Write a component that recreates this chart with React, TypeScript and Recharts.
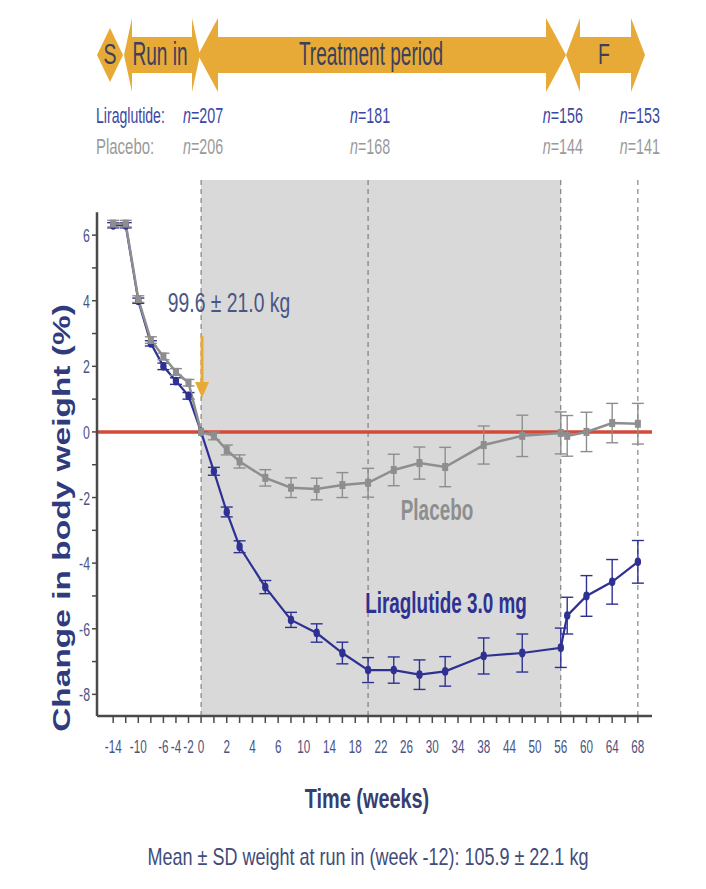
import React from 'react';
import {
  ComposedChart,
  Line,
  XAxis,
  YAxis,
  ReferenceLine,
  ReferenceArea,
  ErrorBar,
} from 'recharts';

// weeks of each visit and mean change in body weight (%) +- SD
const weeks = [-14, -12, -10, -8, -6, -4, -2, 0, 1, 2, 3, 5, 8, 12, 16, 20, 24, 28, 32, 38, 47, 56, 57, 60, 64, 68];
const liraglutide = [6.3, 6.3, 4.0, 2.7, 2.0, 1.55, 1.1, 0, -1.2, -2.44, -3.5, -4.73, -5.73, -6.13, -6.74, -7.26, -7.26, -7.4, -7.3, -6.83, -6.74, -6.58, -5.6, -5.0, -4.57, -3.96];
const liraglutideSd = [0.08, 0.08, 0.08, 0.08, 0.1, 0.1, 0.1, 0, 0.12, 0.15, 0.18, 0.2, 0.23, 0.28, 0.33, 0.38, 0.4, 0.45, 0.45, 0.55, 0.58, 0.6, 0.56, 0.62, 0.68, 0.65];
const placebo = [6.35, 6.35, 4.05, 2.8, 2.3, 1.83, 1.5, 0, -0.12, -0.55, -0.9, -1.4, -1.7, -1.74, -1.62, -1.55, -1.16, -0.95, -1.07, -0.4, -0.12, -0.03, -0.12, 0, 0.27, 0.25];
const placeboSd = [0.1, 0.1, 0.1, 0.1, 0.1, 0.1, 0.1, 0, 0.12, 0.15, 0.2, 0.25, 0.3, 0.33, 0.38, 0.44, 0.48, 0.49, 0.6, 0.58, 0.63, 0.64, 0.62, 0.6, 0.6, 0.62];

const xTickLabels = [-14, -10, -6, -4, -2, 0, 2, 4, 6, 10, 14, 18, 22, 26, 30, 34, 38, 44, 50, 56, 60, 64, 68];
const yTickLabels = [-8, -6, -4, -2, 0, 2, 4, 6];

// the published time axis is not linear: breakpoints (weeks) and their slot on the axis
const axisWeeks = [-14, 0, 2, 4, 6, 10, 14, 18, 22, 26, 30, 34, 38, 44, 50, 56, 60, 64, 68];
const axisSlots = [-3.42, 0, 1, 2, 3, 4, 5, 6, 7, 8, 9, 10, 11, 12, 13, 14, 15, 16, 17];

const nWeeks = [0, 20, 56, 68];
const nLiraglutide = [207, 181, 156, 153];
const nPlacebo = [206, 168, 144, 141];

const toSlot = (w: number) => {
  let i = 0;
  while (i < axisWeeks.length - 2 && w > axisWeeks[i + 1]) i++;
  const w0 = axisWeeks[i], w1 = axisWeeks[i + 1];
  return axisSlots[i] + ((w - w0) / (w1 - w0)) * (axisSlots[i + 1] - axisSlots[i]);
};

const data = weeks.map((w, i) => ({
  slot: toSlot(w),
  week: w,
  lira: liraglutide[i],
  liraSd: liraglutideSd[i],
  placebo: placebo[i],
  placeboSd: placeboSd[i],
}));

const W = 706;
const H = 889;
const PLOT = { left: 97, right: 652, top: 180, bottom: 716 };
const X_DOMAIN: [number, number] = [-4.05, 17.55];
const Y_DOMAIN: [number, number] = [-8.66, 7.68];

const minorTicks = [
  ...[-14, -12, -10, -8, -6, -4, -2].map(toSlot),
  ...Array.from({ length: 35 }, (_, i) => i * 0.5),
];

const NAVY = '#2e3192';
const GREY = '#8e8e8e';
const ORANGE = '#e8aa36';
const TICK = '#4a5384';
const FONT = "'Liberation Sans', Arial, sans-serif";

const slotToPx = (s: number) =>
  PLOT.left + ((s - X_DOMAIN[0]) / (X_DOMAIN[1] - X_DOMAIN[0])) * (PLOT.right - PLOT.left);

type TProps = {
  x: number;
  y: number;
  size: number;
  fill: string;
  anchor?: 'start' | 'middle' | 'end';
  bold?: boolean;
  sx?: number; // the source picture is squeezed horizontally
  children: React.ReactNode;
};

const T = ({ x, y, size, fill, anchor = 'middle', bold, sx = 0.65, children }: TProps) => (
  <g transform={`translate(${x},${y}) scale(${sx},1)`}>
    <text x={0} y={0} fontSize={size} fill={fill} textAnchor={anchor} fontFamily={FONT} fontWeight={bold ? 700 : 400}>
      {children}
    </text>
  </g>
);

const XTick = (props: any) => {
  const { x, y, payload } = props;
  const label = xTickLabels.find((l) => Math.abs(toSlot(l) - payload.value) < 1e-6);
  if (label === undefined) return <g />;
  return <T x={x} y={y + 28} size={18} fill={TICK}>{String(label)}</T>;
};

const YTick = (props: any) => {
  const { x, y, payload } = props;
  if (!yTickLabels.includes(payload.value)) return <g />;
  return <T x={x} y={y + 7} size={19} fill={TICK} anchor="end">{String(payload.value)}</T>;
};

const LiraDot = (props: any) => (
  <ellipse key={`l${props.index}`} cx={props.cx} cy={props.cy} rx={3.2} ry={4.4} fill={NAVY} />
);

const PlaceboDot = (props: any) => (
  <rect key={`p${props.index}`} x={props.cx - 3} y={props.cy - 4} width={6} height={8} fill={GREY} />
);

const arrow = (x1: number, x2: number, hl: number, cy = 55, bh = 18, hh = 37) =>
  [
    [x1, cy], [x1 + hl, cy - hh], [x1 + hl, cy - bh], [x2 - hl, cy - bh], [x2 - hl, cy - hh],
    [x2, cy], [x2 - hl, cy + hh], [x2 - hl, cy + bh], [x1 + hl, cy + bh], [x1 + hl, cy + hh],
  ].map((p) => p.join(',')).join(' ');

const App: React.FC = () => {
  return (
    <div style={{ position: 'absolute', left: 0, top: 0, width: W, height: H, background: '#fff' }}>
      <ComposedChart
        width={W}
        height={H}
        data={data}
        margin={{ top: PLOT.top, right: W - PLOT.right, bottom: H - PLOT.bottom - 30, left: PLOT.left - 40 }}
      >
        <ReferenceArea x1={toSlot(0)} x2={toSlot(56)} y1={Y_DOMAIN[0]} y2={Y_DOMAIN[1]} fill="#d9d9d9" fillOpacity={1} stroke="none" />
        {nWeeks.map((w) => (
          <ReferenceLine key={w} x={toSlot(w)} stroke="#6e6e6e" strokeWidth={1} strokeDasharray="5 4" />
        ))}
        <ReferenceLine y={0} stroke="#d44a3a" strokeWidth={3.5} />
        <ReferenceLine
          segment={[{ x: X_DOMAIN[0], y: Y_DOMAIN[0] }, { x: X_DOMAIN[0], y: 6.7 }]}
          stroke="#4a4a4a"
          strokeWidth={2.5}
        />
        <XAxis
          type="number"
          dataKey="slot"
          domain={X_DOMAIN}
          ticks={minorTicks}
          interval={0}
          height={30}
          tick={<XTick />}
          tickSize={7}
          tickLine={{ stroke: '#4a4a4a', strokeWidth: 1.5 }}
          axisLine={{ stroke: '#4a4a4a', strokeWidth: 2.5 }}
          allowDataOverflow
        />
        <YAxis
          type="number"
          domain={Y_DOMAIN}
          ticks={[-8, -7, -6, -5, -4, -3, -2, -1, 0, 1, 2, 3, 4, 5, 6]}
          interval={0}
          width={40}
          tick={<YTick />}
          tickSize={5}
          tickLine={{ stroke: '#4a4a4a', strokeWidth: 1.5 }}
          axisLine={false}
          allowDataOverflow
        />
        <Line
          dataKey="lira"
          stroke={NAVY}
          strokeWidth={2.2}
          dot={LiraDot}
          activeDot={false}
          isAnimationActive={false}
        >
          <ErrorBar dataKey="liraSd" direction="y" width={6} stroke={NAVY} strokeWidth={1.4} />
        </Line>
        <Line
          dataKey="placebo"
          stroke={GREY}
          strokeWidth={2.5}
          dot={PlaceboDot}
          activeDot={false}
          isAnimationActive={false}
        >
          <ErrorBar dataKey="placeboSd" direction="y" width={6} stroke={GREY} strokeWidth={1.4} />
        </Line>
      </ComposedChart>

      <svg width={W} height={H} style={{ position: 'absolute', left: 0, top: 0, pointerEvents: 'none' }}>
        {/* study periods */}
        <polygon points={arrow(198, 566, 20)} fill={ORANGE} />
        <polygon points={arrow(566, 645, 14)} fill={ORANGE} />
        <polygon points={arrow(124, 200, 8)} fill={ORANGE} />
        <polygon points="97,55 110,28 123,55 110,82" fill={ORANGE} />
        <T x={110} y={64} size={30} fill="#3c3f5c">S</T>
        <T x={160} y={65} size={34} fill="#3c3f5c" sx={0.56}>Run in</T>
        <T x={371} y={65} size={34} fill="#3c3f5c" sx={0.56}>Treatment period</T>
        <T x={604} y={64} size={30} fill="#3c3f5c">F</T>

        {/* patients per visit */}
        <T x={96} y={123} size={22} fill="#3b47a2" anchor="start" sx={0.64}>Liraglutide:</T>
        <T x={96} y={154} size={22} fill="#9a9a9a" anchor="start" sx={0.68}>Placebo:</T>
        {nWeeks.map((w, i) => (
          <g key={w}>
            <T x={slotToPx(toSlot(w)) + 2} y={123} size={22} fill="#3b47a2">
              <tspan fontStyle="italic">n</tspan>={nLiraglutide[i]}
            </T>
            <T x={slotToPx(toSlot(w)) + 2} y={154} size={22} fill="#9a9a9a">
              <tspan fontStyle="italic">n</tspan>={nPlacebo[i]}
            </T>
          </g>
        ))}

        {/* baseline weight at randomisation */}
        <T x={229} y={312} size={28} fill="#4a5585" sx={0.69}>99.6 ± 21.0 kg</T>
        <line x1={202} y1={336} x2={202} y2={386} stroke={ORANGE} strokeWidth={3} />
        <polygon points="195,382 209,382 202,398" fill={ORANGE} />

        <T x={437} y={520} size={30} fill={GREY} bold sx={0.63}>Placebo</T>
        <T x={446} y={613} size={30} fill={NAVY} bold sx={0.63}>Liraglutide 3.0 mg</T>

        <g transform="translate(70,518) scale(0.65,0.93) rotate(-90)">
          <text x={0} y={0} fontSize={36} fontWeight={700} fill="#2f3b7d" textAnchor="middle" fontFamily={FONT}>
            Change in body weight (%)
          </text>
        </g>
        <T x={367} y={808} size={28} fill="#34406f" bold sx={0.71}>Time (weeks)</T>
        <T x={368} y={865} size={24} fill="#414c7a" sx={0.75}>Mean ± SD weight at run in (week -12): 105.9 ± 22.1 kg</T>
      </svg>
    </div>
  );
};

export default App;
